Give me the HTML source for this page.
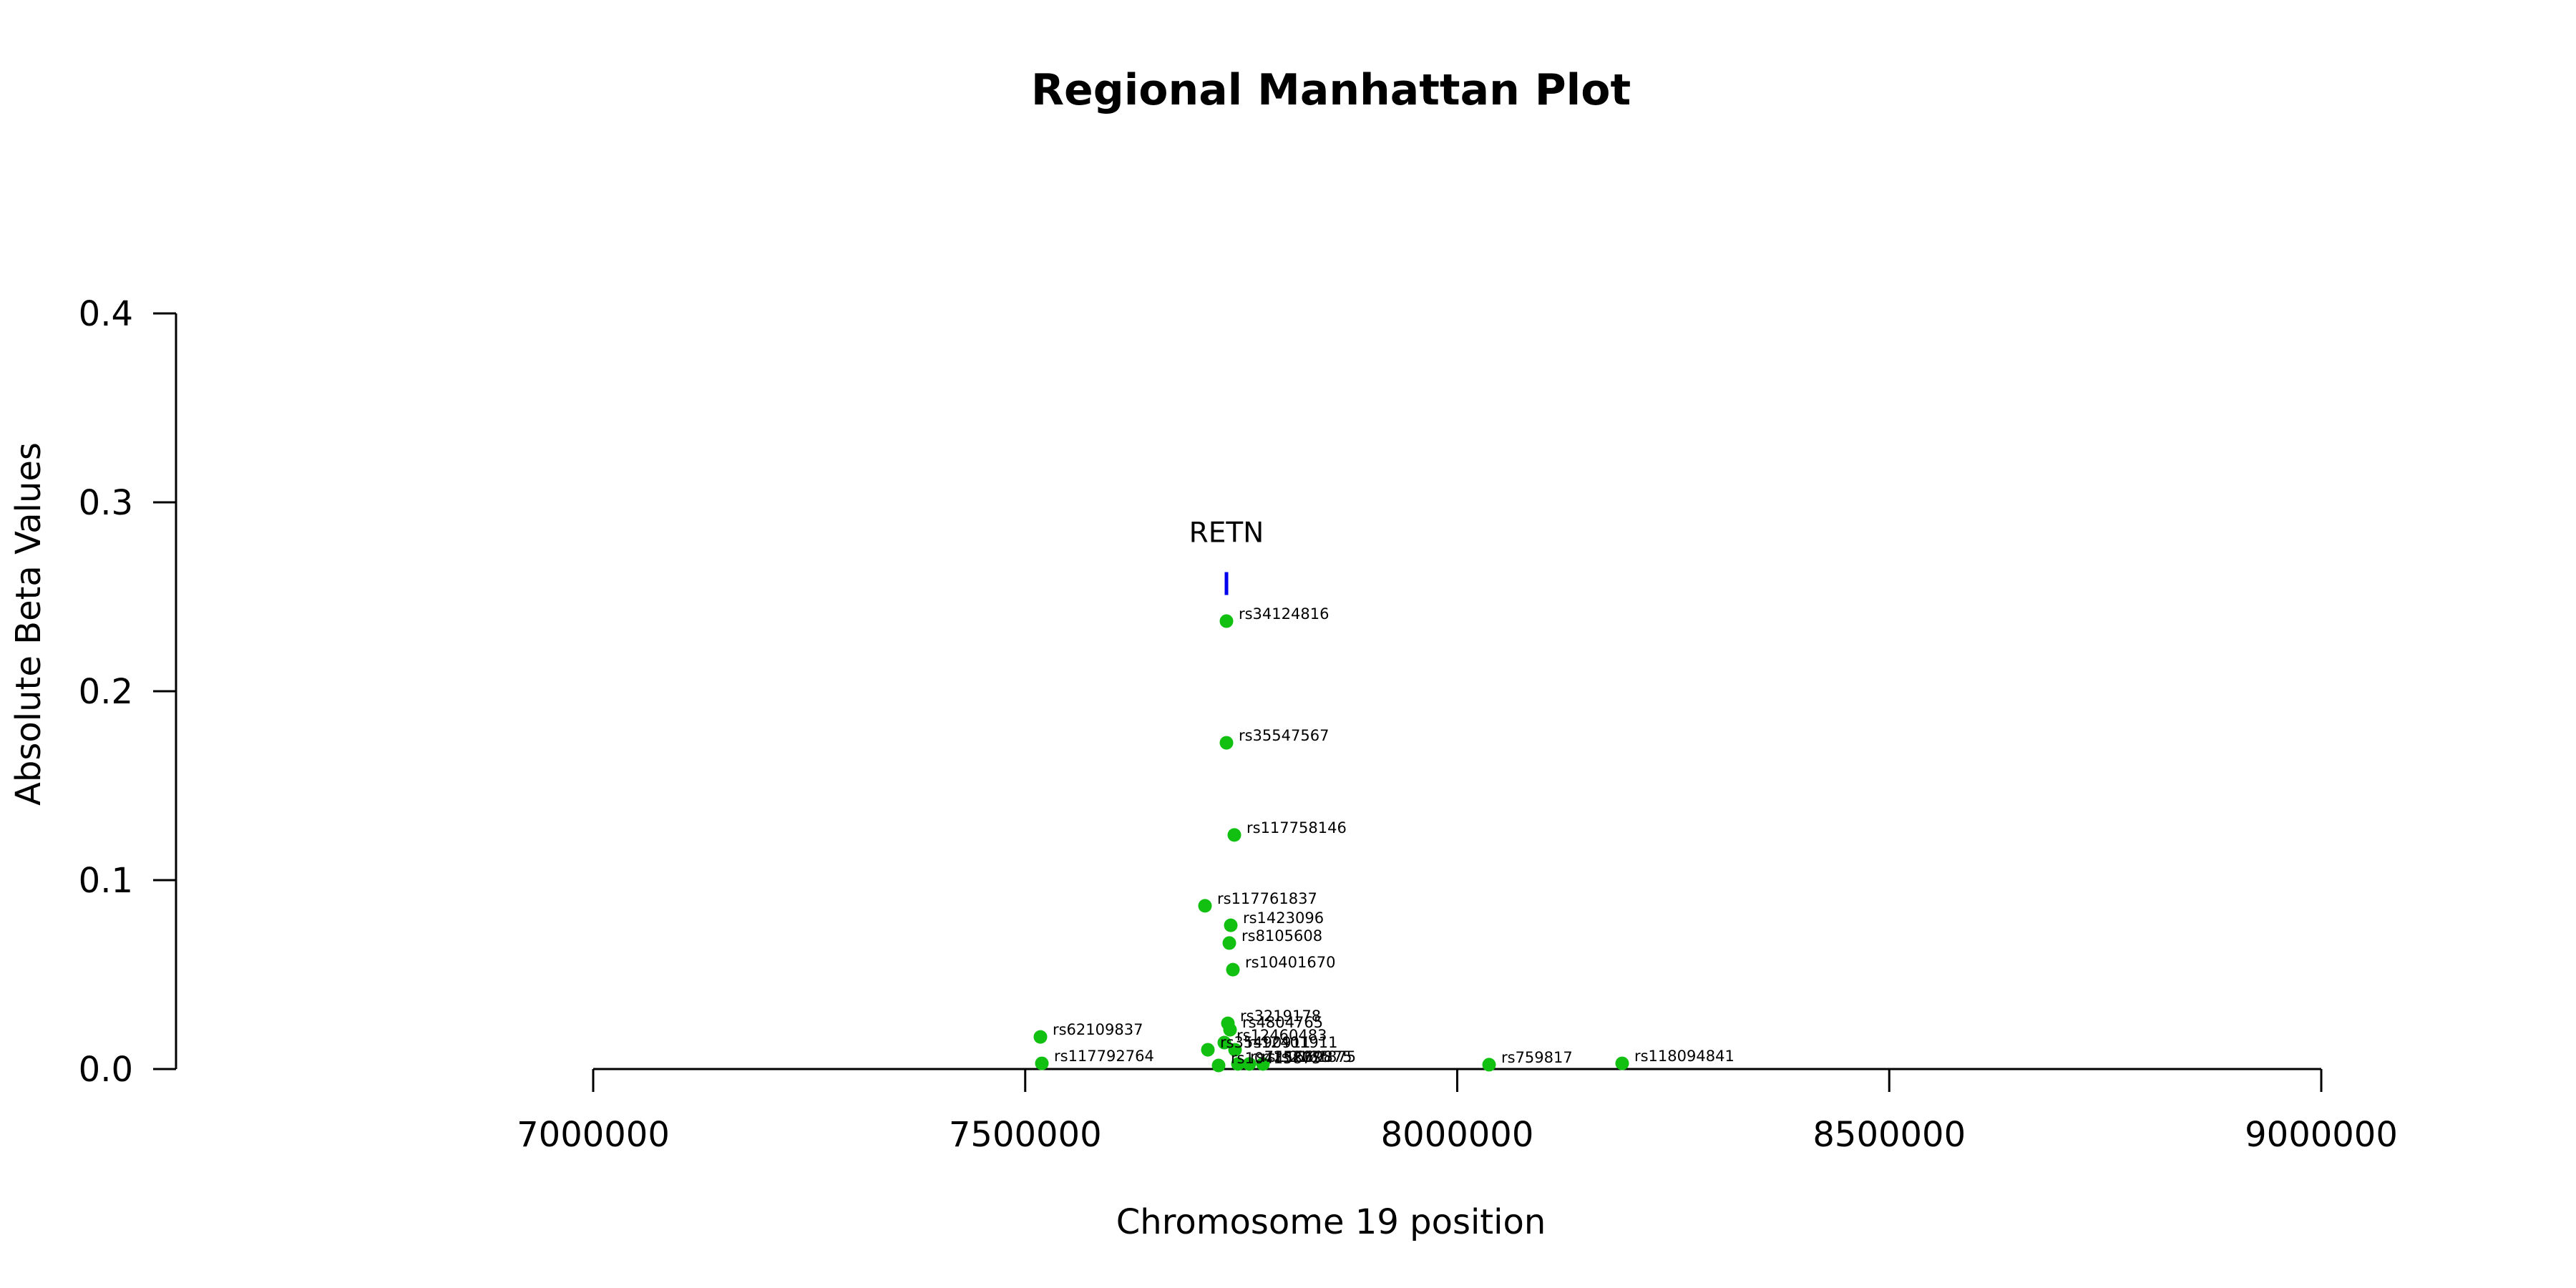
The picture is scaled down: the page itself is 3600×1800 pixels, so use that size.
<!DOCTYPE html>
<html><head><meta charset="utf-8"><style>
html,body{margin:0;padding:0;background:#fff;}
svg{display:block;font-family:"DejaVu Sans","Liberation Sans",sans-serif;}
</style></head><body>
<svg id="chart" width="3600" height="1800" viewBox="0 0 3600 1800" xmlns="http://www.w3.org/2000/svg">
<rect width="3600" height="1800" fill="#fff"/>
<text x="1860" y="146" text-anchor="middle" font-size="60" font-weight="bold">Regional Manhattan Plot</text>
<text x="1860" y="1724" text-anchor="middle" font-size="48">Chromosome 19 position</text>
<text transform="translate(56,872) rotate(-90)" text-anchor="middle" font-size="48">Absolute Beta Values</text>
<g id="axes"></g>
<g id="marks"></g>
</svg>
<script>
const snpNames = ["rs34124816","rs35547567","rs117758146","rs117761837","rs1423096","rs8105608","rs10401670","rs3219178","rs4804765","rs12460483","rs35490911","rs12401911","rs10415875","rs7252075","rs11669875","rs2161875","rs62109837","rs117792764","rs759817","rs118094841"];
const snpPos = [7732919,7732919,7742029,7708075,7737888,7736232,7740373,7734576,7737060,7730435,7711387,7742857,7723810,7746170,7759420,7775155,7517598,7519255,8036853,8190890];
const snpBeta = [0.2371,0.1727,0.1239,0.0864,0.0761,0.0667,0.0526,0.0242,0.0208,0.0140,0.0102,0.0102,0.0019,0.0027,0.0027,0.0027,0.0170,0.0030,0.0023,0.0030];
const xTicks = [7000000,7500000,8000000,8500000,9000000];
const yTicks = [0.0,0.1,0.2,0.3,0.4];
const yTickLabels = ["0.0","0.1","0.2","0.3","0.4"];
const geneNames = ["RETN"];
const genePos = [7732919];
const geneBeta = [0.257];

const NS="http://www.w3.org/2000/svg";
function xs(v){return 829+(v-7000000)/2000000*2415;}
function ys(v){return 1494-v/0.4*1056;}
function mk(tag,attrs,parent,txt){const e=document.createElementNS(NS,tag);for(const k in attrs)e.setAttribute(k,attrs[k]);if(txt!==undefined)e.textContent=txt;parent.appendChild(e);return e;}
const axes=document.getElementById('axes'), marks=document.getElementById('marks');

let l=mk('line',{x1:xs(xTicks[0]),x2:xs(xTicks[xTicks.length-1]),y1:1494,y2:1494,stroke:'#000','stroke-width':3},axes);


xTicks.forEach((t,i)=>{
  const tk=mk('line',{x1:xs(t),x2:xs(t),y1:1494,y2:1526,stroke:'#000','stroke-width':3},axes);
  
  
  const tl=mk('text',{x:xs(t),y:1602,'text-anchor':'middle','font-size':48},axes,String(t));
  
  
});
l=mk('line',{x1:246,x2:246,y1:ys(yTicks[yTicks.length-1]),y2:ys(yTicks[0]),stroke:'#000','stroke-width':3},axes);


yTicks.forEach((t,i)=>{
  const tk=mk('line',{x1:214,x2:246,y1:ys(t),y2:ys(t),stroke:'#000','stroke-width':3},axes);
  
  
  const tl=mk('text',{x:186,y:ys(t)+17,'text-anchor':'end','font-size':48},axes,yTickLabels[i]);
  
  
});
geneNames.forEach((g,i)=>{
  const gl=mk('line',{x1:xs(genePos[i]),x2:xs(genePos[i]),y1:ys(geneBeta[i])-16,y2:ys(geneBeta[i])+16,stroke:'#0000ee','stroke-width':5},marks);
  
  
  const gt=mk('text',{x:xs(genePos[i]),y:ys(geneBeta[i])-58,'text-anchor':'middle','font-size':39},marks,g);
  
  
});
snpNames.forEach((n,i)=>{
  const cx=xs(snpPos[i]), cy=ys(snpBeta[i]);
  const c=mk('circle',{cx:cx,cy:cy,r:9.5,fill:'#11c011'},marks);
  
  
});
snpNames.forEach((n,i)=>{
  const cx=xs(snpPos[i]), cy=ys(snpBeta[i]);
  const t=mk('text',{x:cx+17,y:cy-3,'font-size':21},marks,n);
  
  
});
</script>
</body></html>
